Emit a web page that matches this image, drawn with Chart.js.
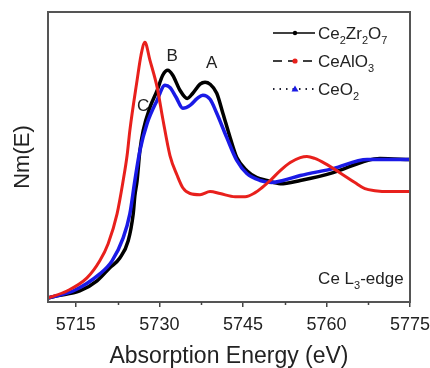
<!DOCTYPE html>
<html><head><meta charset="utf-8">
<script src="https://cdn.jsdelivr.net/npm/chart.js@4.4.1/dist/chart.umd.min.js"></script>
<style>html,body{margin:0;padding:0;background:#fff;overflow:hidden}canvas{display:block}</style>
</head><body>
<canvas id="c" width="430" height="368"></canvas>
<script>
// ---- data ----
const seriesNames = ['Ce2Zr2O7', 'CeAlO3', 'CeO2'];

const energyCe2Zr2O7 = [5710.0,5711.6,5715.7,5718.8,5721.1,5722.9,5724.4,5725.3,5725.6,5726.0,5726.5,5727.1,5728.3,5729.6,5730.6,5731.5,5732.4,5733.7,5735.0,5736.0,5737.3,5738.2,5739.1,5740.3,5741.4,5742.7,5743.9,5745.7,5747.5,5749.3,5751.7,5755.3,5761.2,5767.3,5769.6,5775.0];
const nmCe2Zr2O7 = [0.014,0.021,0.038,0.073,0.118,0.152,0.211,0.304,0.367,0.419,0.522,0.592,0.671,0.730,0.782,0.799,0.782,0.730,0.702,0.720,0.751,0.758,0.751,0.720,0.651,0.567,0.498,0.453,0.429,0.419,0.408,0.419,0.446,0.488,0.495,0.491];

const energyCeAlO3 = [5710.0,5713.4,5717.0,5719.3,5720.8,5722.4,5723.5,5724.2,5724.7,5726.0,5726.7,5727.4,5728.3,5729.6,5730.6,5731.9,5733.2,5734.2,5735.5,5737.3,5739.1,5740.9,5743.6,5745.4,5747.2,5748.4,5749.9,5751.7,5753.5,5755.3,5756.5,5757.9,5759.7,5762.4,5765.1,5766.9,5768.7,5771.4,5775.0];
const nmCeAlO3 = [0.014,0.038,0.083,0.142,0.201,0.304,0.419,0.505,0.592,0.765,0.851,0.896,0.834,0.740,0.633,0.505,0.436,0.394,0.374,0.370,0.381,0.374,0.363,0.363,0.377,0.394,0.419,0.453,0.481,0.498,0.502,0.495,0.478,0.446,0.412,0.391,0.384,0.381,0.381];

const energyCeO2 = [5710.0,5714.5,5719.3,5721.5,5723.5,5724.7,5725.6,5726.5,5727.8,5729.6,5731.0,5731.9,5733.0,5734.2,5735.5,5736.8,5737.8,5739.1,5740.3,5742.1,5743.9,5745.7,5748.1,5750.2,5752.2,5755.3,5761.2,5767.3,5775.0];
const nmCeO2 = [0.014,0.038,0.097,0.142,0.221,0.304,0.419,0.522,0.616,0.696,0.747,0.740,0.706,0.668,0.678,0.702,0.713,0.699,0.651,0.567,0.488,0.443,0.419,0.412,0.419,0.436,0.460,0.491,0.491];

const xTicks = [5715, 5730, 5745, 5760, 5775];
const xMinorTicks = [5722.5, 5737.5, 5752.5, 5767.5];

const peakLabels = ['B', 'A', 'C'];
const peakLabelEnergy = [5732.3, 5739.4, 5727.1];
const peakLabelNm = [0.851, 0.827, 0.678];

const edgeLabel = 'Ce L3-edge';
const edgeLabelEnergy = 5758.5;
const edgeLabelNm = 0.062;

// ---- helpers ----
const FONT = 'Liberation Sans, Arial, sans-serif';
function pts(xs, ys) { return xs.map((x, i) => ({x: x, y: ys[i]})); }

// text with digits drawn as subscripts
function drawRich(ctx, str, x, y, size, color, align) {
  const sub = Math.round(size * 0.65);
  const parts = [];
  let cur = '', curSub = null;
  for (const ch of str) {
    const isSub = /[0-9]/.test(ch);
    if (curSub === null || isSub === curSub) { cur += ch; curSub = isSub; }
    else { parts.push([cur, curSub]); cur = ch; curSub = isSub; }
  }
  if (cur) parts.push([cur, curSub]);
  ctx.save();
  ctx.fillStyle = color;
  ctx.textBaseline = 'alphabetic';
  ctx.textAlign = 'left';
  let total = 0;
  for (const [t, s] of parts) { ctx.font = (s ? sub : size) + 'px ' + FONT; total += ctx.measureText(t).width; }
  let cx = align === 'center' ? x - total / 2 : x;
  for (const [t, s] of parts) {
    ctx.font = (s ? sub : size) + 'px ' + FONT;
    ctx.fillText(t, cx, s ? y + size * 0.3 : y);
    cx += ctx.measureText(t).width;
  }
  ctx.restore();
}

const decorPlugin = {
  id: 'decor',
  afterDatasetsDraw(chart) {
    const ctx = chart.ctx, a = chart.chartArea;
    const xs = chart.scales.x, ys = chart.scales.y;
    // frame
    ctx.save();
    ctx.strokeStyle = '#555';
    ctx.lineWidth = 2;
    ctx.strokeRect(a.left, a.top, a.right - a.left, a.bottom - a.top);
    // minor ticks
    ctx.lineWidth = 1.5;
    ctx.strokeStyle = '#444';
    for (const v of xMinorTicks) {
      const px = Math.round(xs.getPixelForValue(v)) + 0.5;
      ctx.beginPath(); ctx.moveTo(px, a.bottom); ctx.lineTo(px, a.bottom + 3); ctx.stroke();
    }
    ctx.restore();

    // peak labels
    for (let i = 0; i < peakLabels.length; i++) {
      const px = xs.getPixelForValue(peakLabelEnergy[i]);
      const py = ys.getPixelForValue(peakLabelNm[i]);
      drawRich(ctx, peakLabels[i], px, py + 6, 17, '#222', 'center');
    }
    drawRich(ctx, edgeLabel, xs.getPixelForValue(edgeLabelEnergy), ys.getPixelForValue(edgeLabelNm), 17, '#222', 'left');

    // legend
    const lx0 = 273, lx1 = 315, mx = 295, tx = 318;
    const rows = [33, 61, 89];
    ctx.save();
    // row 1: solid black with dot
    ctx.strokeStyle = '#000'; ctx.lineWidth = 1.5; ctx.setLineDash([]);
    ctx.beginPath(); ctx.moveTo(lx0, rows[0]); ctx.lineTo(lx1, rows[0]); ctx.stroke();
    ctx.fillStyle = '#000'; ctx.beginPath(); ctx.arc(mx, rows[0], 2.2, 0, Math.PI * 2); ctx.fill();
    // row 2: dashed black with red dot
    ctx.setLineDash([9, 6]); ctx.lineDashOffset = 0;
    ctx.beginPath(); ctx.moveTo(lx0, rows[1]); ctx.lineTo(lx1, rows[1]); ctx.stroke();
    ctx.setLineDash([]);
    ctx.fillStyle = '#e8201c'; ctx.beginPath(); ctx.arc(mx, rows[1], 2.6, 0, Math.PI * 2); ctx.fill();
    // row 3: dotted dark blue with blue triangle
    ctx.strokeStyle = '#223'; ctx.setLineDash([1.5, 5]); ctx.lineWidth = 2;
    ctx.beginPath(); ctx.moveTo(lx0, rows[2]); ctx.lineTo(lx1, rows[2]); ctx.stroke();
    ctx.setLineDash([]);
    ctx.fillStyle = '#1a1ae6';
    ctx.beginPath(); ctx.moveTo(mx, rows[2] - 3.5); ctx.lineTo(mx + 3.5, rows[2] + 2.5); ctx.lineTo(mx - 3.5, rows[2] + 2.5); ctx.closePath(); ctx.fill();
    ctx.restore();
    for (let i = 0; i < seriesNames.length; i++) {
      drawRich(ctx, seriesNames[i], tx, rows[i] + 6, 17, '#222', 'left');
    }
  }
};

new Chart(document.getElementById('c'), {
  type: 'line',
  data: {
    datasets: [
      { label: seriesNames[1], data: pts(energyCeAlO3, nmCeAlO3), borderColor: '#e8201c', borderWidth: 3, pointRadius: 0, cubicInterpolationMode: 'monotone', fill: false, order: 0 },
      { label: seriesNames[2], data: pts(energyCeO2, nmCeO2), borderColor: '#1a1ae6', borderWidth: 3.5, pointRadius: 0, cubicInterpolationMode: 'monotone', fill: false, order: 1 },
      { label: seriesNames[0], data: pts(energyCe2Zr2O7, nmCe2Zr2O7), borderColor: '#000000', borderWidth: 3.5, pointRadius: 0, cubicInterpolationMode: 'monotone', fill: false, order: 2 }
    ]
  },
  options: {
    responsive: false,
    animation: false,
    devicePixelRatio: 1,
    layout: { padding: { left: 0, right: 0, top: 12, bottom: 0 } },
    plugins: { legend: { display: false }, tooltip: { enabled: false } },
    scales: {
      x: {
        type: 'linear', min: 5710, max: 5775,
        afterBuildTicks: s => { s.ticks = xTicks.map(v => ({ value: v })); },
        ticks: { font: { family: FONT, size: 18 }, color: '#222', padding: 7, maxRotation: 0, autoSkip: false, callback: v => String(v) },
        grid: { drawOnChartArea: false, drawTicks: true, tickLength: 5, color: '#444', lineWidth: 1.5 },
        border: { display: false },
        title: { display: true, text: 'Absorption Energy (eV)', font: { family: FONT, size: 23, lineHeight: 1 }, color: '#222', padding: { top: 0, bottom: 0 } },
        afterFit: s => { s.height = 66; s.paddingRight = 20; s.paddingLeft = 0; }
      },
      y: {
        min: 0, max: 1,
        ticks: { display: false },
        grid: { display: false },
        border: { display: false },
        title: { display: true, text: 'Nm(E)', font: { family: FONT, size: 22, lineHeight: 1 }, color: '#222', padding: { top: 12, bottom: 0 } },
        afterFit: s => { s.width = 48; }
      }
    }
  },
  plugins: [decorPlugin]
});
</script>
</body></html>
